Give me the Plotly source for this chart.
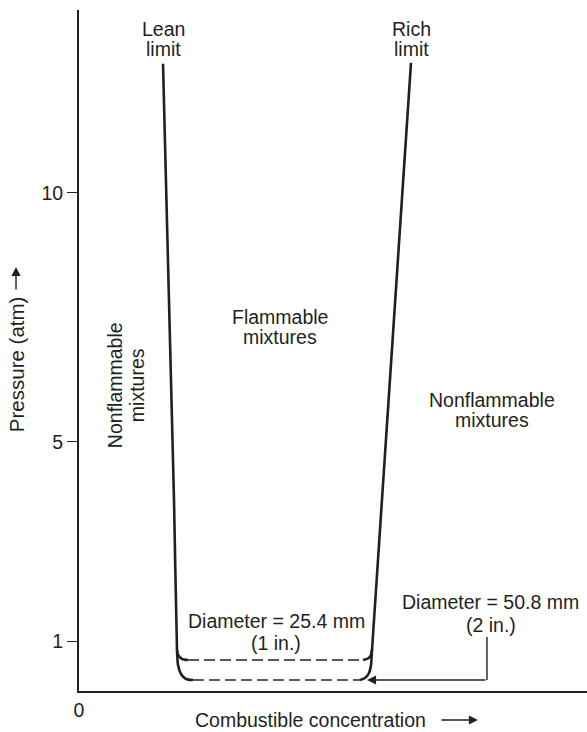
import plotly.graph_objects as go

INK = "#231f20"
FONT = "Liberation Sans, Arial, Helvetica, sans-serif"
FS = 19.5

# Lean limit (solid line + curve of the 50.8 mm tube)
lean_x = [1.654, 1.870, 1.929, 1.949, 2.008, 2.106, 2.244]
lean_p = [12.59, 3.835, 0.823, 0.522, 0.341, 0.241, 0.221]
# Lean branch for 25.4 mm tube
lean_in_x = [1.929, 1.949, 2.028, 2.146]
lean_in_p = [0.823, 0.723, 0.643, 0.622]
# Rich limit
rich_x = [6.535, 5.768, 5.748, 5.709, 5.630, 5.531]
rich_p = [12.61, 0.823, 0.522, 0.361, 0.261, 0.221]
rich_in_x = [5.768, 5.748, 5.689, 5.591]
rich_in_p = [0.823, 0.723, 0.653, 0.622]
# Dashed bottom limits
d254_x = [2.146, 5.591]
d254_p = [0.622, 0.622]
d508_x = [2.244, 5.531]
d508_p = [0.221, 0.221]
# Leader for 50.8 mm label
lead_x = [8.031, 8.031]
lead_p = [1.084, 0.221]
arrow_tip = (5.669, 0.221)

y_ticks = [1, 5, 10]
x_ticks = [0]

fig = go.Figure()
solid = dict(color=INK, width=2.6)
for xs, ps in [(lean_x, lean_p), (lean_in_x, lean_in_p), (rich_x, rich_p), (rich_in_x, rich_in_p)]:
    fig.add_trace(go.Scatter(x=xs, y=ps, mode="lines", line=dict(shape="spline", smoothing=0.6, **solid),
                             hoverinfo="skip", showlegend=False))
for xs, ps in [(d254_x, d254_p), (d508_x, d508_p)]:
    fig.add_trace(go.Scatter(x=xs, y=ps, mode="lines", line=dict(color=INK, width=1.6, dash="11px,5px"),
                             hoverinfo="skip", showlegend=False))
fig.add_trace(go.Scatter(x=lead_x, y=lead_p, mode="lines", line=dict(color=INK, width=1.4),
                         hoverinfo="skip", showlegend=False))

fig.add_annotation(x=arrow_tip[0], y=arrow_tip[1], ax=lead_x[1], ay=lead_p[1], axref="x", ayref="y",
                   xref="x", yref="y", text="", showarrow=True, arrowhead=2, arrowsize=1.3,
                   arrowwidth=1.4, arrowcolor=INK)

def label(text, x, y, angle=0, xref="x", yref="y", size=FS):
    fig.add_annotation(x=x, y=y, xref=xref, yref=yref, text=text, showarrow=False,
                       textangle=angle, font=dict(family=FONT, size=size, color=INK),
                       xanchor="center", yanchor="middle")

label("Lean", 1.654, 13.28)
label("limit", 1.654, 12.88)
label("Rich", 6.555, 13.28)
label("limit", 6.555, 12.88)
label("Flammable", 3.957, 7.51)
label("mixtures", 3.957, 7.11)
label("Nonflammable", 8.13, 5.84)
label("mixtures", 8.13, 5.44)
label("Nonflammable", 0.709, 6.14, angle=-90)
label("mixtures", 1.142, 6.14, angle=-90)
label("Diameter = 25.4 mm", 3.878, 1.406)
label("(1 in.)", 3.878, 0.964)
label("Diameter = 50.8 mm", 8.11, 1.787)
label("(2 in.)", 8.11, 1.325)

# Axis titles with arrows
label("Pressure (atm)", -0.124, 0.480, angle=-90, xref="paper", yref="paper", size=20.5)
fig.add_annotation(x=-0.124, y=0.6226, xref="paper", yref="paper", ax=0, ay=24, text="",
                   showarrow=True, arrowhead=2, arrowsize=1.3, arrowwidth=1.4, arrowcolor=INK)
label("Combustible concentration", 0.4557, -0.0426, xref="paper", yref="paper")
fig.add_annotation(x=0.7854, y=-0.0426, xref="paper", yref="paper", ax=-38, ay=0, text="",
                   showarrow=True, arrowhead=2, arrowsize=1.3, arrowwidth=1.4, arrowcolor=INK)

fig.update_layout(
    width=587, height=732,
    margin=dict(l=79, r=0, t=10, b=41),
    paper_bgcolor="white", plot_bgcolor="white",
    font=dict(family=FONT, size=FS, color=INK),
    xaxis=dict(range=[0, 10], showline=True, linecolor=INK, linewidth=2, showgrid=False, zeroline=False,
               tickvals=x_ticks, ticktext=[str(v) for v in x_ticks], ticks="outside", ticklen=1,
               tickcolor="rgba(0,0,0,0)", tickfont=dict(size=FS, family=FONT, color=INK),
               fixedrange=True, automargin=False),
    yaxis=dict(range=[0, 13.67], showline=True, linecolor=INK, linewidth=2, showgrid=False, zeroline=False,
               tickvals=y_ticks, ticktext=[str(v) for v in y_ticks], ticks="outside", ticklen=10,
               tickwidth=1.4, tickcolor=INK, tickfont=dict(size=FS, family=FONT, color=INK),
               fixedrange=True, automargin=False),
    showlegend=False,
)

fig.write_html("out.html", config={"displayModeBar": False},
               post_script="document.body.style.margin='0';document.body.style.overflow='hidden';")
